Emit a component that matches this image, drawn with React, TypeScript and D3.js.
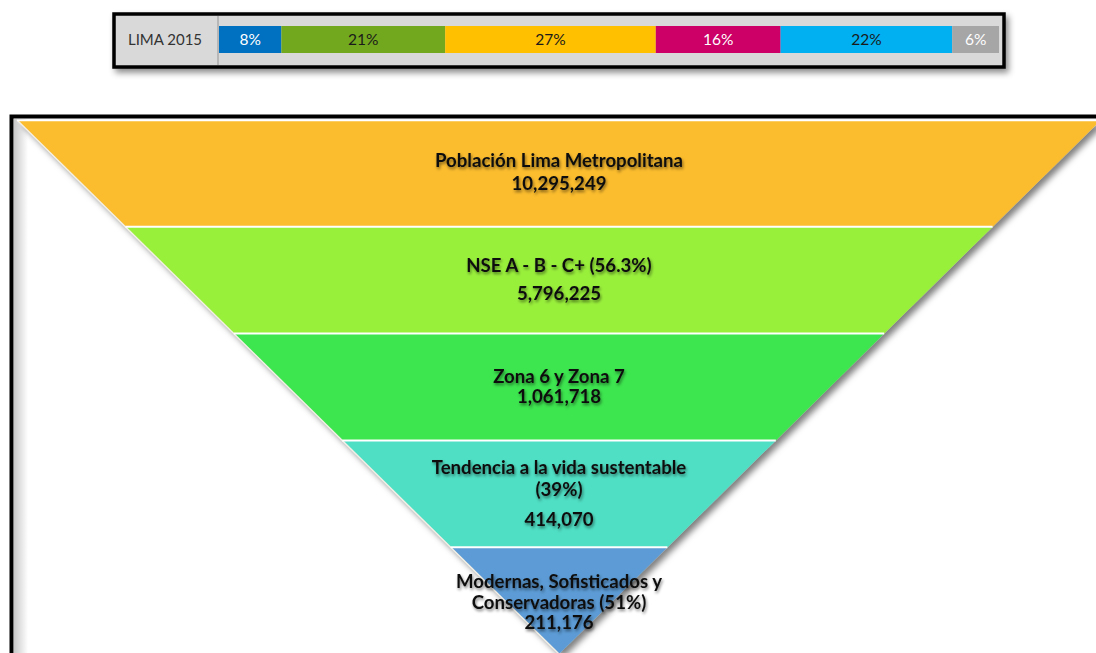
import React from "react";
import * as d3 from "d3";

// Distribution bar: Lima 2015
const barTitle = "LIMA 2015";
const barShares = [8, 21, 27, 16, 22, 6];
const barColors = ["#0070C0", "#72A81E", "#FFC000", "#CC0066", "#00B0F0", "#A6A6A6"];
const barTextColors = ["#ffffff", "#1a1a1a", "#1a1a1a", "#ffffff", "#1a1a1a", "#ffffff"];

// Funnel stages
const stageNames = [
  "Población Lima Metropolitana",
  "NSE A - B - C+ (56.3%)",
  "Zona 6 y Zona 7",
  "Tendencia a la vida sustentable (39%)",
  "Modernas, Sofisticados y Conservadoras (51%)",
];
const stageLabelLines = [
  ["Población Lima Metropolitana"],
  ["NSE A - B - C+ (56.3%)"],
  ["Zona 6 y Zona 7"],
  ["Tendencia a la vida sustentable", "(39%)"],
  ["Modernas, Sofisticados y", "Conservadoras (51%)"],
];
const stageValues = [10295249, 5796225, 1061718, 414070, 211176];
const stageColors = ["#FBBC2E", "#99F03A", "#3EE54F", "#50DFC4", "#5B9BD5"];

const W = 1096;
const H = 653;
const fmt = d3.format(",");
const FONT = "Lato, 'Open Sans', sans-serif";

export default function App() {
  // distribution bar scales
  const barX = d3.scaleLinear().domain([0, d3.sum(barShares)]).range([219, 999]);
  const cum = d3.cumsum(barShares);
  const barSegs = barShares.map((v, i) => ({
    v,
    x0: barX(cum[i] - v),
    x1: barX(cum[i]),
    color: barColors[i],
    text: barTextColors[i],
  }));

  // funnel scales
  const bandY = d3.scaleBand<string>().domain(stageNames).range([120, 654]).padding(0);
  const cx = 559;
  const halfW = d3.scaleLinear().domain([120, 654]).range([542, 0]);

  const stages = stageNames.map((name, i) => {
    const y0 = bandY(name)!;
    const y1 = y0 + bandY.bandwidth();
    const pts: [number, number][] = [
      [cx - halfW(y0), y0],
      [cx + halfW(y0), y0],
      [cx + halfW(y1), y1],
      [cx - halfW(y1), y1],
    ];
    return { name, i, y0, y1, pts };
  });
  const line = d3.line();

  // baseline of each label line and of the value, per stage
  const labelLayout = [
    { lines: [161], value: 184 },
    { lines: [266], value: 294 },
    { lines: [377], value: 397 },
    { lines: [468, 490], value: 520 },
    { lines: [582, 603], value: 623 },
  ];

  return (
    <svg
      width={W}
      height={H}
      style={{ position: "fixed", left: 0, top: 0, background: "#fff" }}
      fontFamily={FONT}
    >
      <defs>
        <filter id="boxShadow" x="-5%" y="-30%" width="110%" height="180%">
          <feDropShadow dx="3" dy="4" stdDeviation="3" floodColor="#000" floodOpacity="0.45" />
        </filter>
        <filter id="funnelShadow" x="-10%" y="-10%" width="120%" height="130%">
          <feDropShadow dx="4" dy="4" stdDeviation="3" floodColor="#000" floodOpacity="0.5" />
        </filter>
        <filter id="textGlow" x="-10%" y="-40%" width="120%" height="180%">
          <feGaussianBlur in="SourceAlpha" stdDeviation="1.6" result="b" />
          <feOffset in="b" dx="1" dy="1.5" result="o" />
          <feComponentTransfer in="o" result="s">
            <feFuncA type="linear" slope="0.5" />
          </feComponentTransfer>
          <feMerge>
            <feMergeNode in="s" />
            <feMergeNode in="SourceGraphic" />
          </feMerge>
        </filter>
        <linearGradient id="leftShade" x1="0" x2="1" y1="0" y2="0">
          <stop offset="0" stopColor="#c8c8c8" />
          <stop offset="0.5" stopColor="#e4e4e4" />
          <stop offset="1" stopColor="#ffffff" />
        </linearGradient>
      </defs>

      {/* distribution bar */}
      <g>
        <rect x={114} y={14} width={890} height={53} fill="#d9d9d9" stroke="#000" strokeWidth={3.5} filter="url(#boxShadow)" />
        <line x1={218} x2={218} y1={16} y2={65} stroke="#a0a0a0" strokeWidth={1.2} />
        <text x={165} y={45} textAnchor="middle" fontSize={15} fill="#333">
          {barTitle}
        </text>
        {barSegs.map((s, i) => (
          <g key={i}>
            <rect x={s.x0} y={26} width={s.x1 - s.x0} height={27} fill={s.color} />
            <text x={(s.x0 + s.x1) / 2} y={45} textAnchor="middle" fontSize={15.5} fill={s.text}>
              {s.v}%
            </text>
          </g>
        ))}
      </g>

      {/* funnel frame */}
      <rect x={14} y={119} width={W} height={H} fill="#fff" />
      <rect x={14} y={119} width={14} height={H} fill="url(#leftShade)" />
      <rect x={11.5} y={116.5} width={W + 10} height={H} fill="none" stroke="#000" strokeWidth={4} />

      {/* funnel */}
      <g filter="url(#funnelShadow)">
        {stages.map((s) => (
          <path key={s.name} d={line(s.pts)! + "Z"} fill={stageColors[s.i]} />
        ))}
      </g>
      {/* left edge highlight and separators */}
      <line x1={cx - halfW(120)} y1={120} x2={cx} y2={654} stroke="#f3efe6" strokeWidth={1.5} />
      {stages.slice(1).map((s) => (
        <line key={s.name} x1={cx - halfW(s.y0)} x2={cx + halfW(s.y0)} y1={s.y0} y2={s.y0} stroke="#fff" strokeWidth={2} />
      ))}
      <line x1={cx - halfW(120)} x2={cx + halfW(120)} y1={120.5} y2={120.5} stroke="#fff" strokeWidth={1.5} />

      {/* stage labels */}
      <g filter="url(#textGlow)" fontWeight={700} fontSize={18.6} fill="#111" textAnchor="middle">
        {stages.map((s) => (
          <g key={s.name}>
            {stageLabelLines[s.i].map((t, k) => (
              <text key={k} x={cx} y={labelLayout[s.i].lines[k] + 6}>
                {t}
              </text>
            ))}
            <text x={cx} y={labelLayout[s.i].value + 6}>
              {fmt(stageValues[s.i])}
            </text>
          </g>
        ))}
      </g>
    </svg>
  );
}
